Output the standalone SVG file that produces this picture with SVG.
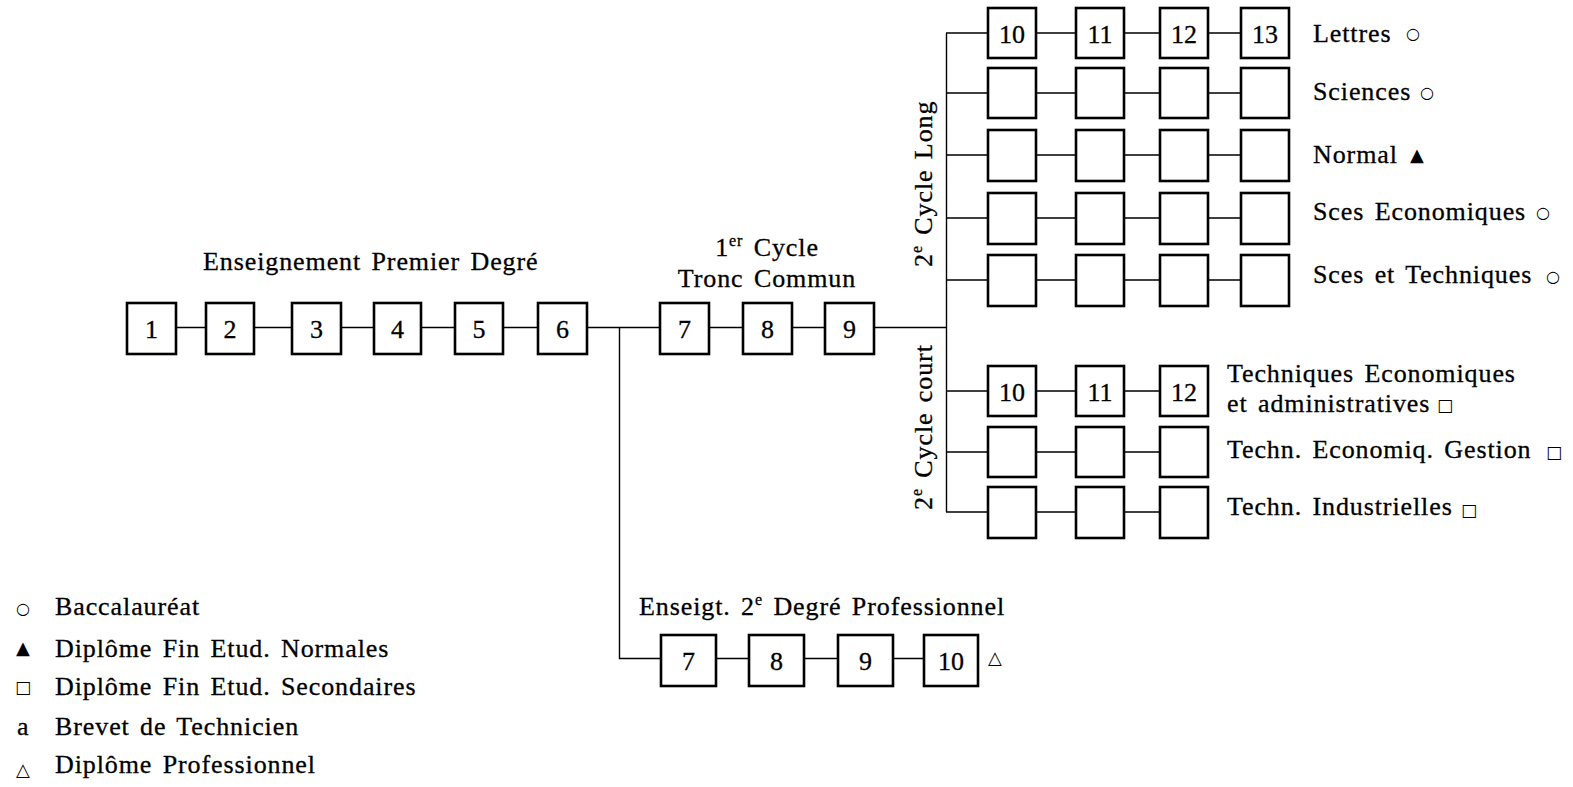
<svg xmlns="http://www.w3.org/2000/svg" width="1573" height="787" viewBox="0 0 1573 787">
<style>
.box{fill:#fff;stroke:#000;stroke-width:2.6}
.ln{stroke:#000;stroke-width:1.4;fill:none}
.t{font-family:"Liberation Serif","Times New Roman",serif;font-size:26px;letter-spacing:0.9px;word-spacing:3px;fill:#000;stroke:#000;stroke-width:0.3}
.n{font-family:"Liberation Serif","Times New Roman",serif;font-size:26px;fill:#000;stroke:#000;stroke-width:0.3;text-anchor:middle}
.sym{font-family:"DejaVu Sans",sans-serif;fill:#000;text-anchor:middle}
.c{font-size:16px}
.tr{font-size:18px}
.sq{font-size:17px}
</style>
<rect width="1573" height="787" fill="#fff"/>
<g id="connectors" class="ln">
<path d="M176 327.5H206M254 327.5H292M341 327.5H374M421 327.5H455M503 327.5H538M587 327.5H660M709 327.5H743M792 327.5H825M874 327.5H946"/>
<path d="M619.5 327.5V658.5H661M716 658.5H749M804 658.5H838M893 658.5H924"/>
<path d="M946.5 33V512"/>
<path d="M946 33H988M1036 33H1076M1124 33H1160M1208 33H1241"/>
<path d="M946 93H988M1036 93H1076M1124 93H1160M1208 93H1241"/>
<path d="M946 155H988M1036 155H1076M1124 155H1160M1208 155H1241"/>
<path d="M946 218H988M1036 218H1076M1124 218H1160M1208 218H1241"/>
<path d="M946 280H988M1036 280H1076M1124 280H1160M1208 280H1241"/>
<path d="M946 391H988M1036 391H1076M1124 391H1160"/>
<path d="M946 452H988M1036 452H1076M1124 452H1160"/>
<path d="M946 512H988M1036 512H1076M1124 512H1160"/>
</g>
<g id="labels">
<text class="t" x="203" y="270">Enseignement Premier Degré</text>
<text class="t" x="767" y="256" text-anchor="middle">1<tspan font-size="16" dy="-10">er</tspan><tspan dy="10"> Cycle</tspan></text>
<text class="t" x="767" y="287" text-anchor="middle">Tronc Commun</text>
<text class="t" transform="translate(932 267) rotate(-90)">2<tspan font-size="16" dy="-10">e</tspan><tspan dy="10"> Cycle Long</tspan></text>
<text class="t" transform="translate(932 510) rotate(-90)">2<tspan font-size="16" dy="-10">e</tspan><tspan dy="10"> Cycle court</tspan></text>
<text class="t" x="639" y="615">Enseigt. 2<tspan font-size="16" dy="-10">e</tspan><tspan dy="10"> Degré Professionnel</tspan></text>
</g>
<g id="n1"><rect class="box" x="127" y="303" width="49" height="51"/><text class="n" x="151.5" y="338">1</text></g>
<g id="n2"><rect class="box" x="206" y="303" width="48" height="51"/><text class="n" x="230" y="338">2</text></g>
<g id="n3"><rect class="box" x="292" y="303" width="49" height="51"/><text class="n" x="316.5" y="338">3</text></g>
<g id="n4"><rect class="box" x="374" y="303" width="47" height="51"/><text class="n" x="397.5" y="338">4</text></g>
<g id="n5"><rect class="box" x="455" y="303" width="48" height="51"/><text class="n" x="479" y="338">5</text></g>
<g id="n6"><rect class="box" x="538" y="303" width="49" height="51"/><text class="n" x="562.5" y="338">6</text></g>
<g id="n7"><rect class="box" x="660" y="303" width="49" height="51"/><text class="n" x="684.5" y="338">7</text></g>
<g id="n8"><rect class="box" x="743" y="303" width="49" height="51"/><text class="n" x="767.5" y="338">8</text></g>
<g id="n9"><rect class="box" x="825" y="303" width="49" height="51"/><text class="n" x="849.5" y="338">9</text></g>
<g id="L1">
<rect class="box" x="988" y="8" width="48" height="50"/><text class="n" x="1012" y="43">10</text>
<rect class="box" x="1076" y="8" width="48" height="50"/><text class="n" x="1100" y="43">11</text>
<rect class="box" x="1160" y="8" width="48" height="50"/><text class="n" x="1184" y="43">12</text>
<rect class="box" x="1241" y="8" width="48" height="50"/><text class="n" x="1265" y="43">13</text>
<text class="t" x="1313" y="42">Lettres</text><text class="sym c" x="1413" y="38.5">○</text>
</g>
<g id="L2">
<rect class="box" x="988" y="68" width="48" height="50"/><rect class="box" x="1076" y="68" width="48" height="50"/><rect class="box" x="1160" y="68" width="48" height="50"/><rect class="box" x="1241" y="68" width="48" height="50"/>
<text class="t" x="1313" y="100">Sciences</text><text class="sym c" x="1427" y="97.5">○</text>
</g>
<g id="L3">
<rect class="box" x="988" y="130" width="48" height="51"/><rect class="box" x="1076" y="130" width="48" height="51"/><rect class="box" x="1160" y="130" width="48" height="51"/><rect class="box" x="1241" y="130" width="48" height="51"/>
<text class="t" x="1313" y="163">Normal</text><text class="sym tr" x="1417" y="161">▲</text>
</g>
<g id="L4">
<rect class="box" x="988" y="193" width="48" height="51"/><rect class="box" x="1076" y="193" width="48" height="51"/><rect class="box" x="1160" y="193" width="48" height="51"/><rect class="box" x="1241" y="193" width="48" height="51"/>
<text class="t" x="1313" y="220">Sces Economiques</text><text class="sym c" x="1543" y="217.5">○</text>
</g>
<g id="L5">
<rect class="box" x="988" y="255" width="48" height="51"/><rect class="box" x="1076" y="255" width="48" height="51"/><rect class="box" x="1160" y="255" width="48" height="51"/><rect class="box" x="1241" y="255" width="48" height="51"/>
<text class="t" x="1313" y="283">Sces et Techniques</text><text class="sym c" x="1553" y="281.5">○</text>
</g>
<g id="C1">
<rect class="box" x="988" y="366" width="48" height="50"/><text class="n" x="1012" y="401">10</text>
<rect class="box" x="1076" y="366" width="48" height="50"/><text class="n" x="1100" y="401">11</text>
<rect class="box" x="1160" y="366" width="48" height="50"/><text class="n" x="1184" y="401">12</text>
<text class="t" x="1227" y="382">Techniques Economiques</text>
<text class="t" x="1227" y="412">et administratives</text><text class="sym sq" x="1445" y="410.5">□</text>
</g>
<g id="C2">
<rect class="box" x="988" y="427" width="48" height="50"/><rect class="box" x="1076" y="427" width="48" height="50"/><rect class="box" x="1160" y="427" width="48" height="50"/>
<text class="t" x="1227" y="458">Techn. Economiq. Gestion</text><text class="sym sq" x="1554" y="457.5">□</text>
</g>
<g id="C3">
<rect class="box" x="988" y="487" width="48" height="51"/><rect class="box" x="1076" y="487" width="48" height="51"/><rect class="box" x="1160" y="487" width="48" height="51"/>
<text class="t" x="1227" y="515">Techn. Industrielles</text><text class="sym sq" x="1469" y="515.5">□</text>
</g>
<g id="p7"><rect class="box" x="661" y="635" width="55" height="51"/><text class="n" x="688.5" y="670">7</text></g>
<g id="p8"><rect class="box" x="749" y="635" width="55" height="51"/><text class="n" x="776.5" y="670">8</text></g>
<g id="p9"><rect class="box" x="838" y="635" width="55" height="51"/><text class="n" x="865.5" y="670">9</text></g>
<g id="p10"><rect class="box" x="924" y="635" width="54" height="51"/><text class="n" x="951" y="670">10</text></g>
<text class="sym tr" x="995" y="664">△</text>
<g id="legend">
<text class="sym c" x="23" y="613.5">○</text><text class="t" x="55" y="615">Baccalauréat</text>
<text class="sym tr" x="23" y="654">▲</text><text class="t" x="55" y="657">Diplôme Fin Etud. Normales</text>
<text class="sym sq" x="23" y="692.5">□</text><text class="t" x="55" y="695">Diplôme Fin Etud. Secondaires</text>
<text class="t" x="17" y="735">a</text><text class="t" x="55" y="735">Brevet de Technicien</text>
<text class="sym tr" x="23" y="776">△</text><text class="t" x="55" y="773">Diplôme Professionnel</text>
</g>
</svg>
